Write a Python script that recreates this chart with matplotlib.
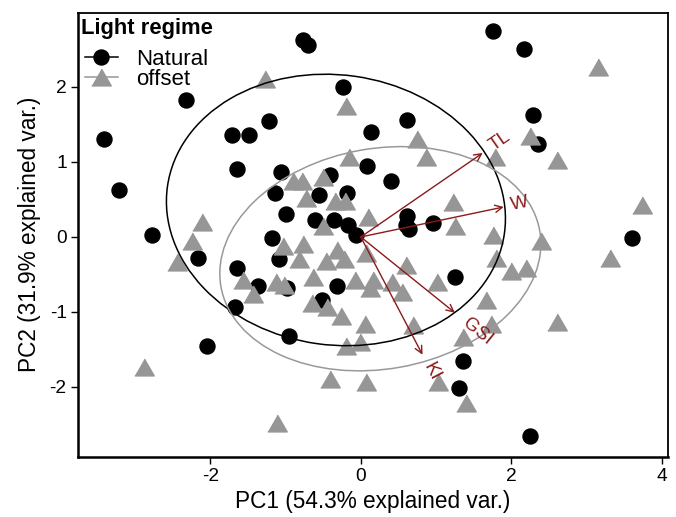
import numpy as np
import matplotlib
matplotlib.use("Agg")
import matplotlib.pyplot as plt
from matplotlib.patches import Ellipse
from matplotlib.lines import Line2D

plt.rcParams['font.family'] = ['Liberation Sans', 'DejaVu Sans']
plt.rcParams['axes.unicode_minus'] = False

# PCA scores, group "Natural"
nat_pc1 = [-3.41, -3.21, -2.77, -2.32, -2.16, -2.04, -1.71, -1.48, -1.22, -1.64,
           -1.64, -1.67, -1.36, -1.06, -1.14, -0.99, -0.95, -0.77, -0.70, -0.24,
           0.14, 0.61, 0.08, 0.40, -0.41, -0.55, -0.18, -0.61, -0.35, -0.17,
           -0.06, 0.61, 0.60, 0.64, 0.96, -1.18, -1.08, -0.98, -0.31, -0.51,
           1.25, 1.36, 1.31, 2.25, 1.76, 2.17, 2.29, 2.35, 3.60]
nat_pc2 = [1.30, 0.63, 0.02, 1.83, -0.28, -1.45, 1.36, 1.36, 1.55, 0.91,
           -0.42, -0.93, -0.65, 0.87, 0.58, 0.30, -1.32, 2.62, 2.56, 2.00,
           1.40, 1.56, 0.94, 0.75, 0.82, 0.56, 0.59, 0.23, 0.23, 0.16,
           0.03, 0.28, 0.16, 0.10, 0.18, -0.02, -0.30, -0.68, -0.66, -0.84,
           -0.54, -1.65, -2.02, -2.65, 2.74, 2.51, 1.63, 1.24, -0.01]

# PCA scores, group "offset"
off_pc1 = [-1.27, -0.20, 0.75, -0.16, 0.87, 3.15, 2.25, 1.78, 2.61, 3.74,
           3.31, 1.76, 2.39, 1.80, 2.00, 2.20, 1.66, -0.90, -0.78, -0.50,
           -0.73, -0.34, -0.21, 1.23, 0.10, -0.50, 1.25, -2.11, -2.24, -2.44,
           -1.03, -0.77, -0.82, -0.31, -0.46, -0.22, 0.07, 0.60, -0.63, -1.12,
           -1.02, -1.56, -1.43, -0.08, 0.16, 0.12, 0.42, 0.55, 1.01, -0.65,
           -0.45, -0.26, 0.06, -0.20, -0.01, -0.41, 0.07, -2.88, -1.11, 0.69,
           1.73, 2.61, 1.36, 1.03, 1.40]
off_pc2 = [2.11, 1.75, 1.31, 1.07, 1.07, 2.26, 1.34, 1.07, 1.03, 0.43,
           -0.28, 0.03, -0.06, -0.28, -0.46, -0.41, -0.84, 0.74, 0.74, 0.80,
           0.52, 0.48, 0.48, 0.46, 0.27, 0.15, 0.14, 0.20, -0.06, -0.34,
           -0.12, -0.09, -0.29, -0.17, -0.32, -0.29, -0.21, -0.37, -0.54, -0.60,
           -0.64, -0.58, -0.76, -0.57, -0.58, -0.68, -0.60, -0.73, -0.60, -0.88,
           -0.94, -1.06, -1.16, -1.46, -1.40, -1.90, -1.94, -1.74, -2.48, -1.17,
           -1.16, -1.13, -1.34, -1.94, -2.21]

# variable loadings (arrow tips)
var_names = ['TL', 'W', 'GSI', 'KI']
var_pc1 = [1.62, 1.90, 1.25, 0.82]
var_pc2 = [1.12, 0.40, -1.01, -1.57]

# normal-probability ellipses: centre x, centre y, width, height, angle
ell_natural = (-0.33, 0.36, 4.52, 3.60, -8)
ell_offset = (0.26, -0.29, 4.30, 2.94, 10)

pt_grey = '#969696'
arrow_col = '#8B1A1A'
tri = [(-1, -0.866), (1, -0.866), (0, 0.866)]

fig = plt.figure(figsize=(6.76, 5.17), dpi=100)
ax = fig.add_axes([0.115, 0.1166, 0.873, 0.8588])

ax.plot(nat_pc1, nat_pc2, 'o', color='black', markersize=10.8, linestyle='none', zorder=3)
ax.plot(off_pc1, off_pc2, marker=tri, color=pt_grey, markersize=14, linestyle='none', zorder=3)

for (cx, cy, w, h, ang), col in [(ell_natural, 'black'), (ell_offset, '#999999')]:
    ax.add_patch(Ellipse((cx, cy), w, h, angle=ang, fill=False, edgecolor=col, lw=1.1, zorder=4))

for name, vx, vy in zip(var_names, var_pc1, var_pc2):
    ax.annotate('', xy=(vx, vy), xytext=(0, 0),
                arrowprops=dict(arrowstyle='->', color=arrow_col, lw=1.0,
                                shrinkA=0, shrinkB=0, mutation_scale=13), zorder=5)
    ang = np.degrees(np.arctan2(vy, vx))
    d = 3 + 2.2 * len(name)
    ax.annotate(name, xy=(vx, vy), xytext=(d * np.cos(np.radians(ang)), d * np.sin(np.radians(ang))),
                textcoords='offset points', rotation=ang, rotation_mode='anchor',
                ha='left', va='center', color=arrow_col, fontsize=13.5, zorder=6)

ax.set_xlim(-3.76, 4.08)
ax.set_ylim(-2.93, 2.99)
ax.set_xticks([-2, 0, 2, 4])
ax.set_yticks([-2, -1, 0, 1, 2])
ax.tick_params(labelsize=13.8, length=5, width=1, colors='black', pad=3)
for side in ['left', 'bottom']:
    ax.spines[side].set_linewidth(1.8)
for side in ['top', 'right']:
    ax.spines[side].set_linewidth(1.3)

ax.set_xlabel('PC1 (54.3% explained var.)', fontsize=16.3, labelpad=4)
ax.set_ylabel('PC2 (31.9% explained var.)', fontsize=16.3, labelpad=6)

# legend title drawn separately so the gap to the keys matches
ax.text(0.006, 0.9655, 'Light regime', transform=ax.transAxes, fontsize=15.8,
        fontweight='bold', ha='left', va='center')
handles = [Line2D([], [], color='black', marker='o', markersize=10.8, lw=1.1),
           Line2D([], [], color=pt_grey, marker=tri, markersize=14, lw=1.1)]
leg = ax.legend(handles, ['Natural', 'offset'], loc='upper left',
                bbox_to_anchor=(0.012, 0.918), frameon=False, fontsize=16,
                handlelength=1.5, handletextpad=0.8, labelspacing=-0.04,
                borderaxespad=0, borderpad=0)

fig.savefig('out.png', dpi=100)
